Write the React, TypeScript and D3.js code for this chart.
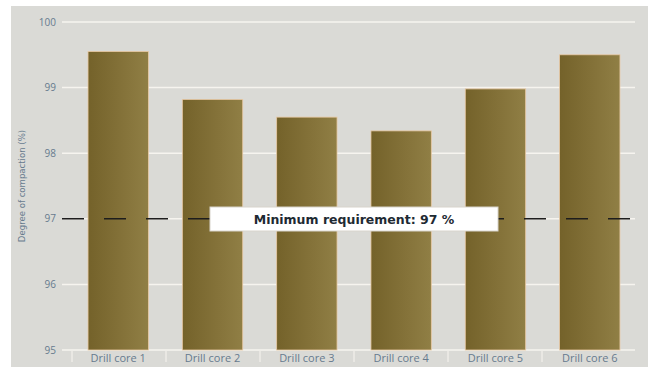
import React from "react";
import * as d3 from "d3";

const categories = ["Drill core 1", "Drill core 2", "Drill core 3", "Drill core 4", "Drill core 5", "Drill core 6"];
const values = [99.55, 98.82, 98.55, 98.34, 98.98, 99.5];
const yTicks = [95, 96, 97, 98, 99, 100];
const minRequirement = 97;
const minLabel = "Minimum requirement: 97 %";
const yTitle = "Degree of compaction (%)";

const W = 648;
const H = 367;

export default function App() {
  const y = d3.scaleLinear().domain([95, 100]).range([350, 22]);
  const x = d3.scaleBand<string>().domain(categories).range([72, 636]).paddingInner(0.36).paddingOuter(0.17);
  const tickColor = "#677b8e";
  const font = "'Open Sans', 'DejaVu Sans', sans-serif";
  return (
    <svg width={W} height={H} style={{ position: "absolute", left: 0, top: 0 }} xmlns="http://www.w3.org/2000/svg">
      <defs>
        <linearGradient id="barGrad" x1="0" x2="1" y1="0" y2="0">
          <stop offset="0%" stopColor="#74622a" />
          <stop offset="60%" stopColor="#85733a" />
          <stop offset="100%" stopColor="#907f45" />
        </linearGradient>
      </defs>
      <rect x={0} y={0} width={W} height={H} fill="#ffffff" />
      <rect x={11} y={6} width={W - 11} height={H - 6} fill="#dadad6" />
      {yTicks.map((t) => (
        <g key={t}>
          <line x1={62} x2={635} y1={y(t)} y2={y(t)} stroke="#f6f4ef" strokeWidth={1.5} />
          <text x={56} y={y(t) + 3.5} textAnchor="end" fontSize={10} fill={tickColor} fontFamily={font}>
            {t}
          </text>
        </g>
      ))}
      {categories.map((c, i) => (
        <line key={"s" + i} x1={72 + i * 94} x2={72 + i * 94} y1={351} y2={362} stroke="#f3f1ec" strokeWidth={1.2} />
      ))}
      {categories.map((c, i) => (
        <rect
          key={c}
          x={x(c)}
          y={y(values[i])}
          width={x.bandwidth()}
          height={y(95) - y(values[i])}
          fill="url(#barGrad)"
          stroke="#e8c9a4"
          strokeWidth={0.8}
        />
      ))}
      {categories.map((c) => (
        <text key={"l" + c} x={(x(c) as number) + x.bandwidth() / 2} y={362} textAnchor="middle" fontSize={11} fill={tickColor} fontFamily={font}>
          {c}
        </text>
      ))}
      <line x1={62} x2={636} y1={y(minRequirement)} y2={y(minRequirement)} stroke="#1d1d1d" strokeWidth={1.5} strokeDasharray="22 20" />
      <rect x={210} y={207} width={288} height={24} fill="#ffffff" stroke="#d8d4cc" strokeWidth={1} />
      <text x={354} y={223.5} textAnchor="middle" fontSize={12.5} fontWeight="bold" fill="#1e2a33" fontFamily="'DejaVu Sans', sans-serif">
        {minLabel}
      </text>
      <text
        transform={`translate(25, 186) rotate(-90)`}
        textAnchor="middle"
        fontSize={9.5}
        fill={tickColor}
        fontFamily="'Liberation Sans Narrow', 'DejaVu Sans Condensed', sans-serif"
      >
        {yTitle}
      </text>
    </svg>
  );
}
